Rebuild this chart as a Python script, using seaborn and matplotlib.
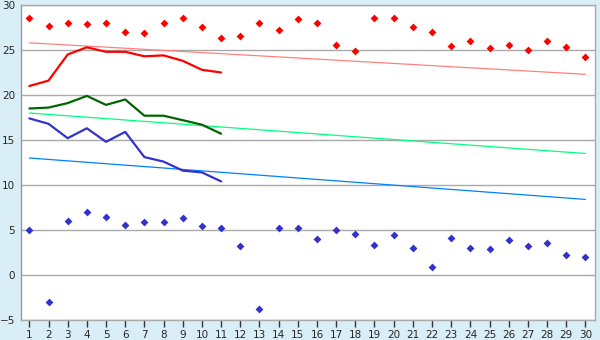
import numpy as np
import pandas as pd
import matplotlib
matplotlib.use("Agg")
import matplotlib.pyplot as plt
import seaborn as sns

days = list(range(1, 31))
max_points = [28.5, 27.7, 28.0, 27.9, 28.0, 27.0, 26.9, 28.0, 28.5, 27.5,
              26.3, 26.6, 28.0, 27.2, 28.4, 28.0, 25.5, 24.9, 28.6, 28.6,
              27.5, 27.0, 25.4, 26.0, 25.2, 25.6, 25.0, 26.0, 25.3, 24.2]
min_points = [5.0, -3.0, 6.0, 7.0, 6.4, 5.6, 5.9, 5.9, 6.3, 5.4,
              5.2, 3.2, -3.8, 5.2, 5.2, 4.0, 5.0, 4.6, 3.3, 4.4,
              3.0, 0.9, 4.1, 3.0, 2.9, 3.9, 3.2, 3.6, 2.2, 2.0]
line_days = list(range(1, 12))
red_line = [21.0, 21.6, 24.5, 25.3, 24.8, 24.8, 24.3, 24.4, 23.8, 22.8, 22.5]
green_line = [18.5, 18.6, 19.1, 19.9, 18.9, 19.5, 17.7, 17.7, 17.2, 16.7, 15.7]
blue_line = [17.4, 16.8, 15.2, 16.3, 14.8, 15.9, 13.1, 12.6, 11.6, 11.4, 10.4]
trend_days = [1, 30]
trend_red = [25.8, 22.3]
trend_green = [18.0, 13.5]
trend_blue = [13.0, 8.4]

sns.set_style("white")
plt.rcParams['font.family'] = ['DejaVu Sans']

fig = plt.figure(figsize=(6, 3.4), dpi=100, facecolor="#d9eef6")
ax = fig.add_axes([0.0345, 0.0588, 0.9572, 0.9265])
ax.set_facecolor("white")

for y in range(-5, 31, 5):
    ax.axhline(y, color="#aaaaaa", lw=1.0, zorder=0)

sns.lineplot(x=trend_days, y=trend_red, ax=ax, color="#ff8080", lw=0.9, zorder=2)
sns.lineplot(x=trend_days, y=trend_green, ax=ax, color="#00ff80", lw=0.9, zorder=2)
sns.lineplot(x=trend_days, y=trend_blue, ax=ax, color="#0080ff", lw=0.9, zorder=2)

sns.lineplot(x=line_days, y=red_line, ax=ax, color="#ff0000", lw=1.6, zorder=3)
sns.lineplot(x=line_days, y=green_line, ax=ax, color="#006600", lw=1.6, zorder=3)
sns.lineplot(x=line_days, y=blue_line, ax=ax, color="#3333cc", lw=1.6, zorder=3)

sns.scatterplot(x=days, y=max_points, ax=ax, color="#ff0000", marker="D", s=16,
                linewidth=0, zorder=4)
sns.scatterplot(x=days, y=min_points, ax=ax, color="#3333cc", marker="D", s=16,
                linewidth=0, zorder=4)

ax.set_xlim(0.55, 30.5)
ax.set_ylim(-5, 30)
ax.set_xticks(days)
ax.set_xticklabels([str(d) for d in days])
ax.set_yticks(range(-5, 31, 5))
ax.tick_params(axis="x", length=5, width=1, color="#333333", labelsize=7.5, pad=2,
               direction="out", bottom=True)
ax.tick_params(axis="y", length=0, labelsize=7.5, pad=4)
for s in ax.spines.values():
    s.set_color("#aaaaaa")
    s.set_linewidth(1.0)
ax.spines["left"].set_color("#999999")
ax.set_xlabel("")
ax.set_ylabel("")

fig.savefig("out.png", dpi=100, facecolor=fig.get_facecolor())
